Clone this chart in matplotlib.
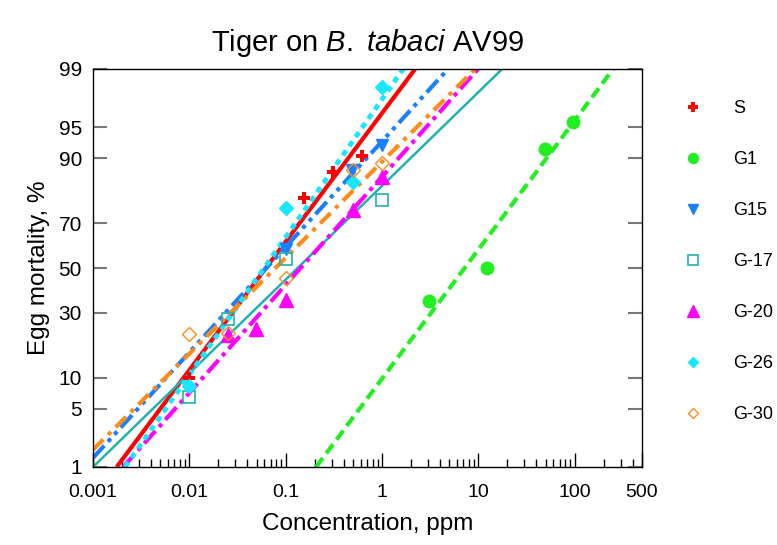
import numpy as np
import matplotlib
matplotlib.use("Agg")
import matplotlib.pyplot as plt
from matplotlib.lines import Line2D
from matplotlib.ticker import LogLocator, FixedLocator, NullFormatter
from statistics import NormalDist

plt.rcParams['font.family'] = ['Liberation Sans', 'DejaVu Sans']
plt.rcParams['mathtext.fontset'] = 'custom'
plt.rcParams['mathtext.rm'] = 'Liberation Sans'
plt.rcParams['mathtext.it'] = 'Liberation Sans:italic'

# probit helper: percent mortality -> normal quantile
nd = NormalDist()
def probit(p):
    return np.array([nd.inv_cdf(v / 100.0) for v in np.atleast_1d(p)])

groups = ['S', 'G1', 'G15', 'G-17', 'G-20', 'G-26', 'G-30']

# observed points (concentration ppm, mortality %)
conc = {
    'S':    [0.01, 0.155, 0.31, 0.62],
    'G1':   [3.1, 12.3, 49.4, 96.7],
    'G15':  [0.1, 0.49, 1.0],
    'G-17': [0.01, 0.025, 0.1, 1.0],
    'G-20': [0.025, 0.049, 0.1, 0.5, 1.0],
    'G-26': [0.01, 0.1, 0.5, 1.0],
    'G-30': [0.01, 0.025, 0.1, 0.5, 1.0],
}
mort = {
    'S':    [9.9, 79.3, 86.9, 90.5],
    'G1':   [35, 50, 91.8, 95.6],
    'G15':  [59, 87.4, 92.5],
    'G-17': [6.6, 27.6, 54, 78.6],
    'G-20': [21.7, 23.8, 35.4, 75.1, 85.6],
    'G-26': [8.4, 75.8, 84.2, 98.3],
    'G-30': [22, 22.4, 45.3, 87.4, 89],
}

# fitted probit lines, two end points each (conc, mortality %)
line_conc = {
    'S':    [0.00176, 2.21],
    'G1':   [0.207, 251],
    'G15':  [0.001, 4.85],
    'G-17': [0.001, 17.7],
    'G-20': [0.00206, 9.95],
    'G-26': [0.00215, 1.66],
    'G-30': [0.001, 9.27],
}
line_mort = {
    'S':    [1, 99],
    'G1':   [1, 99],
    'G15':  [1.32, 99],
    'G-17': [1, 99],
    'G-20': [1, 99],
    'G-26': [1, 99],
    'G-30': [1.68, 99],
}

colors = {'S': '#ff0000', 'G1': '#22ee22', 'G15': '#1a80ff', 'G-17': '#20b2b0',
          'G-20': '#ff00ff', 'G-26': '#18e8ff', 'G-30': '#ff8c1a'}
styles = {
    'S':    dict(lw=3, ls='-'),
    'G1':   dict(lw=3, dashes=(2.7, 1.4)),
    'G15':  dict(lw=3, dashes=(4, 1.3, 1, 1.3, 1, 1.3)),
    'G-17': dict(lw=1.8, ls='-'),
    'G-20': dict(lw=3, dashes=(4, 1.3, 1, 1.3)),
    'G-26': dict(lw=3.5, dashes=(1.2, 1.1)),
    'G-30': dict(lw=3, dashes=(3.5, 1.6, 1, 1.6)),
}
markers = {
    'S':    dict(marker='P', ms=9, mfc='#ff0000', mec='#ff0000', mew=0),
    'G1':   dict(marker='o', ms=9, mfc='#22ee22', mec='#22ee22'),
    'G15':  dict(marker='v', ms=9, mfc='#1a80ff', mec='#1a80ff'),
    'G-17': dict(marker='s', ms=9, mfc='none', mec='#20b2b0', mew=1.2),
    'G-20': dict(marker='^', ms=10, mfc='#ff00ff', mec='#ff00ff'),
    'G-26': dict(marker='D', ms=7, mfc='#18e8ff', mec='#18e8ff'),
    'G-30': dict(marker='D', ms=7, mfc='none', mec='#ff8c1a', mew=1),
}

ytick_vals = [1, 5, 10, 30, 50, 70, 90, 95, 99]

fig = plt.figure(figsize=(7.77, 5.45), dpi=100)
ax = fig.add_axes([93 / 777, 78 / 545, 549 / 777, 398 / 545])

for g in groups:
    ax.plot(line_conc[g], probit(line_mort[g]), color=colors[g],
            solid_capstyle='butt', dash_capstyle='butt', zorder=2, **styles[g])
for g in groups:
    ax.plot(conc[g], probit(mort[g]), ls='none', zorder=3, **markers[g])

ax.set_xscale('log')
ax.set_xlim(0.001, 500)
ax.set_ylim(probit(1)[0], probit(99)[0])
ax.set_xticks([0.001, 0.01, 0.1, 1, 10, 100, 500])
ax.set_xticklabels(['0.001', '0.01', '0.1', '1', '10', '100', '500'])
ax.xaxis.set_minor_locator(LogLocator(base=10, subs=np.arange(2, 10), numticks=20))
ax.xaxis.set_minor_formatter(NullFormatter())
ax.set_yticks(probit(ytick_vals))
ax.set_yticklabels([str(v) for v in ytick_vals])
ax.yaxis.set_minor_locator(FixedLocator([]))

ax.tick_params(axis='x', which='major', direction='in', length=10, width=1,
               labelsize=14, pad=12, top=False)
ax.tick_params(axis='x', which='minor', direction='in', length=6, width=1, top=False)
ax.tick_params(axis='y', which='major', direction='in', length=10, width=1.5,
               color='#777777', labelsize=15, pad=8, right=True)
for s in ax.spines.values():
    s.set_linewidth(1)

ax.set_xlabel('Concentration, ppm', fontsize=17.5, labelpad=9)
ax.set_ylabel('Egg mortality, %', fontsize=17.5, labelpad=6)
ax.set_title('Tiger on $\\it{B.}$ $\\it{tabaci}$ AV99', fontsize=21, pad=13)

handles = [Line2D([], [], ls='none', **dict(markers[g], ms=markers[g]['ms'] * 0.8)) for g in groups]
fig.legend(handles, groups, loc='upper left', bbox_to_anchor=(672 / 777, 1 - 93 / 545),
           frameon=False, fontsize=13, labelspacing=1.88, handletextpad=1.5,
           borderaxespad=0, handlelength=1.5)

fig.savefig('out.png', dpi=100)
